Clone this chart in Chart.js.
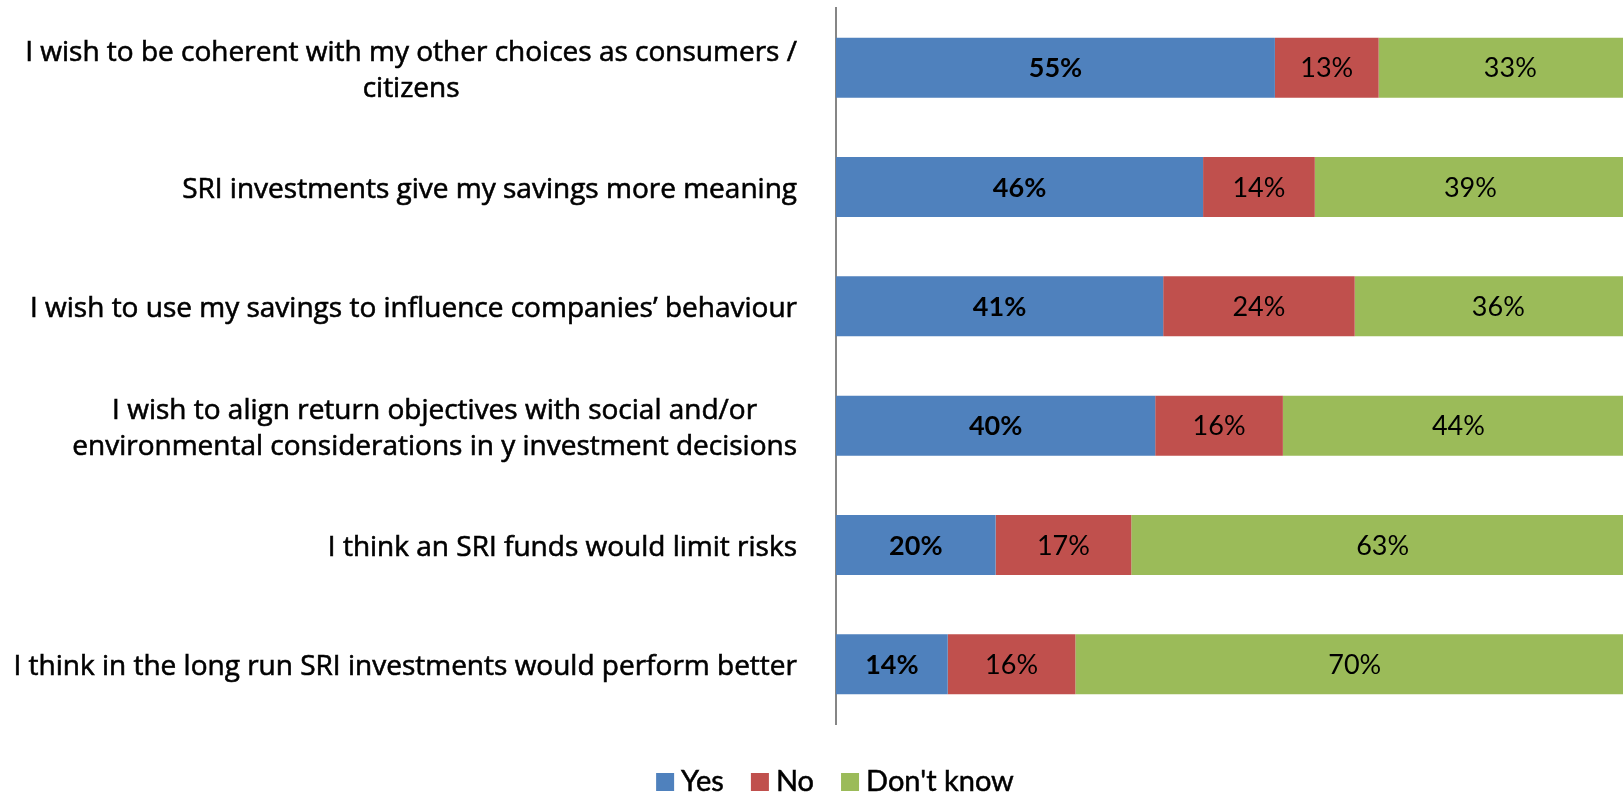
<!DOCTYPE html>
<html>
<head>
<meta charset="utf-8">
<script src="https://cdn.jsdelivr.net/npm/chart.js@4/dist/chart.umd.min.js"></script>
<style>
  html, body { margin: 0; padding: 0; background: #fff; overflow: hidden; }
  #wrap { width: 1634px; height: 794px; }
</style>
</head>
<body>
<div id="wrap"><canvas id="c" width="1634" height="794"></canvas></div>
<script>
// Survey statements (each entry is the list of lines drawn for that row)
const categories = [
  ["I wish to be coherent with my other choices as consumers /", "citizens"],
  ["SRI investments give my savings more meaning"],
  ["I wish to use my savings to influence companies\u2019 behaviour"],
  ["I wish to align return objectives with social and/or", "environmental considerations in y investment decisions"],
  ["I think an SRI funds would limit risks"],
  ["I think in the long run SRI investments would perform better"]
];
const seriesNames = ["Yes", "No", "Don't know"];
const yesValues = [55, 46, 41, 40, 20, 14];
const noValues = [13, 14, 24, 16, 17, 16];
const dontKnowValues = [33, 39, 36, 44, 63, 70];

const COLORS = ["#4F81BD", "#C0504D", "#9BBB59"];
const FONT = "Lato, 'Open Sans', sans-serif";
const LABEL_FONT = "'Open Sans', Lato, sans-serif";

// Multi-line statements: block right-aligned next to the axis, lines centred within the block
const categoryLabels = {
  id: "categoryLabels",
  afterDraw(chart) {
    const { ctx, chartArea } = chart;
    const y = chart.scales.y;
    const right = chartArea.left - 39;
    const lh = 36;
    ctx.save();
    ctx.font = "28px " + LABEL_FONT;
    ctx.fillStyle = "#000";
    ctx.strokeStyle = "#000";
    ctx.lineWidth = 0.6;
    ctx.textAlign = "center";
    ctx.textBaseline = "middle";
    categories.forEach((lines, i) => {
      const cy = y.getPixelForValue(i) + 3;
      const w = Math.max(...lines.map(l => ctx.measureText(l).width));
      const cx = right - w / 2;
      const y0 = cy - (lines.length - 1) * lh / 2;
      lines.forEach((l, k) => {
        ctx.fillText(l, cx, y0 + k * lh);
        ctx.strokeText(l, cx, y0 + k * lh);
      });
    });
    ctx.restore();
  }
};

// Percentage written in the middle of every segment
const valueLabels = {
  id: "valueLabels",
  afterDatasetsDraw(chart) {
    const { ctx } = chart;
    ctx.save();
    ctx.fillStyle = "#000";
    ctx.textAlign = "center";
    ctx.textBaseline = "middle";
    chart.data.datasets.forEach((ds, di) => {
      ctx.font = (di === 0 ? "bold " : "") + "27px " + FONT;
      chart.getDatasetMeta(di).data.forEach((el, i) => {
        ctx.fillText(ds.data[i] + "%", (el.x + el.base) / 2, el.y + 1);
      });
    });
    ctx.restore();
  }
};

// Legend row under the plot
const bottomLegend = {
  id: "bottomLegend",
  afterDraw(chart) {
    const { ctx } = chart;
    const box = 18, gapText = 7, gapItem = 27;
    ctx.save();
    ctx.font = "29px " + FONT;
    ctx.textBaseline = "middle";
    ctx.textAlign = "left";
    ctx.strokeStyle = "#000";
    ctx.lineWidth = 0.5;
    const widths = chart.data.datasets.map(d => box + gapText + ctx.measureText(d.label).width);
    const total = widths.reduce((a, b) => a + b, 0) + gapItem * (widths.length - 1);
    let x = (chart.scales.y.left + chart.width) / 2 - total / 2;
    const cy = 782;
    chart.data.datasets.forEach((d, i) => {
      ctx.fillStyle = d.backgroundColor;
      ctx.fillRect(x, cy - box / 2, box, box);
      ctx.fillStyle = "#000";
      ctx.fillText(d.label, x + box + gapText, cy);
      ctx.strokeText(d.label, x + box + gapText, cy);
      x += widths[i] + gapItem;
    });
    ctx.restore();
  }
};

new Chart(document.getElementById("c"), {
  type: "bar",
  data: {
    labels: categories.map(l => l.join(" ")),
    datasets: [
      { label: seriesNames[0], data: yesValues, backgroundColor: COLORS[0] },
      { label: seriesNames[1], data: noValues, backgroundColor: COLORS[1] },
      { label: seriesNames[2], data: dontKnowValues, backgroundColor: COLORS[2] }
    ]
  },
  options: {
    indexAxis: "y",
    responsive: false,
    animation: false,
    layout: { padding: { left: 36, top: 8, right: 0, bottom: 0 } },
    datasets: { bar: { categoryPercentage: 1, barPercentage: 0.503, borderWidth: 0 } },
    scales: {
      x: {
        stacked: true, min: 0, max: 100,
        ticks: { display: false },
        grid: { display: false },
        border: { display: false },
        afterFit(s) { s.height = 70; }
      },
      y: {
        stacked: true,
        ticks: { display: false },
        grid: { display: false },
        border: { display: true, color: "#868686", width: 2 },
        afterFit(s) { s.width = 800; }
      }
    },
    plugins: {
      legend: { display: false },
      tooltip: { enabled: false }
    }
  },
  plugins: [categoryLabels, valueLabels, bottomLegend]
});
</script>
</body>
</html>
